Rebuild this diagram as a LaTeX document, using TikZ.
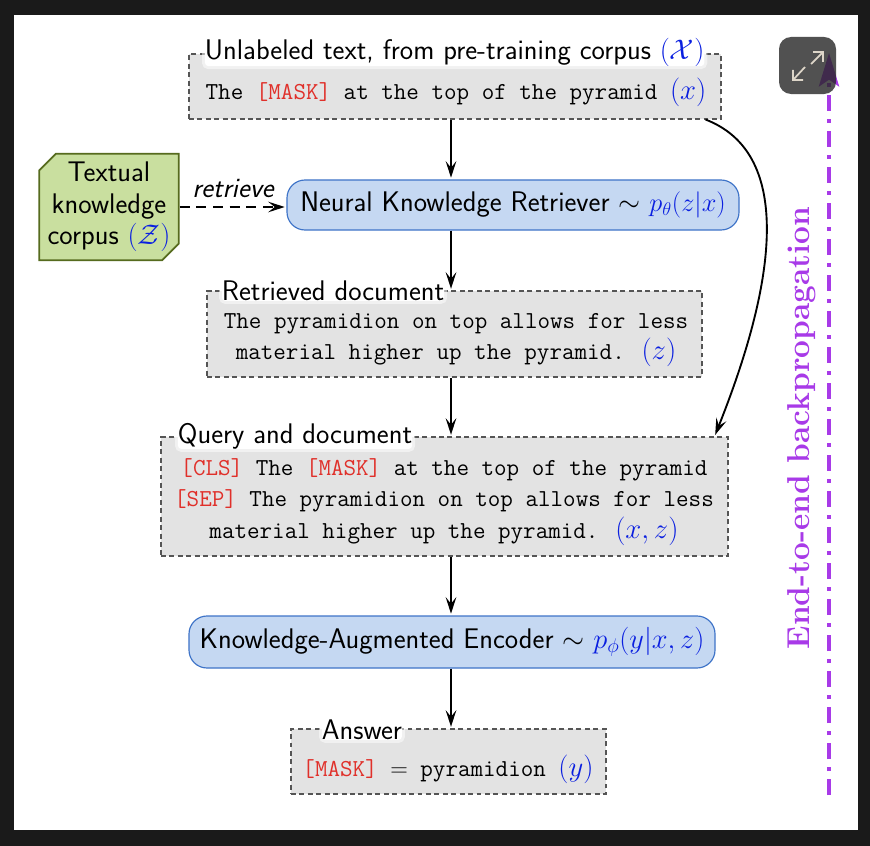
\documentclass[tikz,border=0pt]{standalone}
\usepackage{fix-cm}
\usepackage{xcolor}
\usepackage{tikz}
\usetikzlibrary{arrows.meta,shapes.misc}
\definecolor{framedark}{HTML}{1A1A1A}
\definecolor{docgray}{HTML}{E3E3E3}
\definecolor{docline}{HTML}{555555}
\definecolor{modelblue}{HTML}{C5D8F2}
\definecolor{modelline}{HTML}{3F74C8}
\definecolor{corpusgreen}{HTML}{C9DF9F}
\definecolor{corpusline}{HTML}{566B1E}
\definecolor{maskred}{HTML}{E0302A}
\definecolor{mathblue}{HTML}{0A1FE0}
\definecolor{backpurple}{HTML}{A83AE8}
\definecolor{iconbeige}{HTML}{DDD5C8}
\newcommand{\masktok}[1]{\textcolor{maskred}{#1}}
\newcommand{\bluemath}[1]{\textcolor{mathblue}{$#1$}}
\newcommand{\bigmath}[1]{{\fontsize{24.5}{27}\selectfont\bluemath{#1}}}
\newcommand{\midmath}[1]{{\fontsize{22.5}{27}\selectfont\bluemath{#1}}}
\tikzset{
  docbox/.style={
    rectangle, draw=docline, fill=docgray, dash pattern=on 4.2pt off 3pt,
    line width=0.9pt, minimum width=#1, inner sep=0pt
  },
  doctext/.style={
    font=\fontsize{20.8}{27}\ttfamily, align=center, inner sep=0pt
  },
  doctitle/.style={
    rectangle, fill=white, draw=white, draw opacity=.5, line width=5pt,
    rounded corners=3pt, anchor=west, inner sep=0pt,
    font=\fontsize{24.2}{28}\sffamily
  },
  modelbox/.style={
    rectangle, draw=modelline, fill=modelblue, line width=1pt,
    rounded corners=0.54cm, minimum height=1.5cm, minimum width=#1,
    font=\fontsize{24.2}{28}\sffamily, inner sep=0pt
  },
  corpusbox/.style={
    chamfered rectangle, chamfered rectangle corners={north west,south east},
    chamfered rectangle xsep=0.25cm, chamfered rectangle ysep=0.25cm,
    draw=corpusline, fill=corpusgreen, line width=1.5pt,
    minimum width=4.0cm, minimum height=3.18cm, inner sep=0pt,
    font=\fontsize{24.2}{27}\sffamily, align=center
  },
  dataarrow/.style={
    -{Stealth[length=0.5cm,width=0.32cm,inset=0.2cm]}, line width=1.6pt, color=black,
    shorten >=0.05cm
  },
  backarrow/.style={
    -{Stealth[length=1cm,width=0.6cm,inset=0.2cm]}, line width=3.4pt, color=backpurple,
    dash pattern=on 0.48cm off 0.24cm on 0.12cm off 0.24cm
  },
}
\begin{document}
\begin{tikzpicture}[x=0.03cm, y=-0.03cm]

\fill[framedark] (0,0) rectangle (870,846);
\fill[white] (14,15) rectangle (858,830);

\coordinate (mainaxis) at (451,0);

\node[docbox=15.96cm, minimum height=1.95cm] (unlabeled) at (455,86.5) {};
\node[doctitle] (unlabeledtitle) at (202,52) {Unlabeled text, from pre-training corpus \bluemath{(\mathcal{X})}};
\node[doctext] (unlabeledtext) at (456,92) {The \masktok{[MASK]} at the top of the pyramid \bigmath{(x)}};

\node[modelbox=13.56cm] (retriever) at (513,205) {Neural Knowledge Retriever $\sim$ \midmath{p_\theta(z|x)}};

\node[corpusbox] (corpus) at (109,207) {Textual\\knowledge\\corpus \bluemath{(\mathcal{Z})}};

\node[docbox=14.85cm, minimum height=2.58cm] (retrieved) at (454.5,334) {};
\node[doctitle] (retrievedtitle) at (219,291) {Retrieved document};
\node[doctext] (retrievedtext) at (456,340) {The pyramidion on top allows for less\\material higher up the pyramid. \bigmath{(z)}};

\node[docbox=17.01cm, minimum height=3.57cm] (query) at (444.5,496.5) {};
\node[doctitle] (querytitle) at (175,436) {Query and document};
\node[doctext] (querytext) at (444,502) {\masktok{[CLS]} The \masktok{[MASK]} at the top of the pyramid\\\masktok{[SEP]} The pyramidion on top allows for less\\material higher up the pyramid. \bigmath{(x,z)}};

\node[modelbox=15.78cm, minimum height=1.56cm] (encoder) at (452,642) {Knowledge-Augmented Encoder $\sim$ \bluemath{p_\phi(y|x,z)}};

\node[docbox=9.45cm, minimum height=1.95cm] (answer) at (448.5,761.5) {};
\node[doctitle] (answertitle) at (319,730) {Answer};
\node[doctext] (answertext) at (448,769) {\masktok{[MASK]} $=$ pyramidion \bigmath{(y)}};

\draw[dataarrow] (mainaxis |- unlabeled.south) -- (mainaxis |- retriever.north);
\draw[dataarrow] (mainaxis |- retriever.south) -- (mainaxis |- retrieved.north);
\draw[dataarrow] (mainaxis |- retrieved.south) -- (mainaxis |- query.north);
\draw[dataarrow] (mainaxis |- query.south) -- (mainaxis |- encoder.north);
\draw[dataarrow] (mainaxis |- encoder.south) -- (mainaxis |- answer.north);
\draw[dataarrow] ([xshift=-0.48cm]unlabeled.south east) .. controls (785,150) and (785,260) .. ([xshift=-0.42cm]query.north east);
\draw[dataarrow, dash pattern=on 0.3cm off 0.2cm] (corpus.east) -- node[above=0.24cm, inner sep=0pt, font=\fontsize{24}{28}\sffamily\itshape] (retrievelabel) {retrieve} (corpus.east -| retriever.west);

\coordinate (backstart) at (829,795);
\coordinate (backend) at (829,53);
\draw[backarrow] (backstart) -- (backend);
\node[rotate=90, text=backpurple, inner sep=0pt, font=\fontsize{27}{32}\rmfamily\bfseries] (backlabel) at (802,428) {End-to-end backpropagation};

\node[rectangle, fill=black!85, fill opacity=.8, rounded corners=0.36cm, minimum size=1.71cm, inner sep=0pt] (expandbutton) at (807.5,65.5) {};
\draw[iconbeige, line width=1.5pt] (811,64) -- (823,52) (813,52) -- (823,52) -- (823,62);
\draw[iconbeige, line width=1.5pt] (805,67) -- (793,80) (793,70) -- (793,80) -- (803,80);

\end{tikzpicture}
\end{document}
